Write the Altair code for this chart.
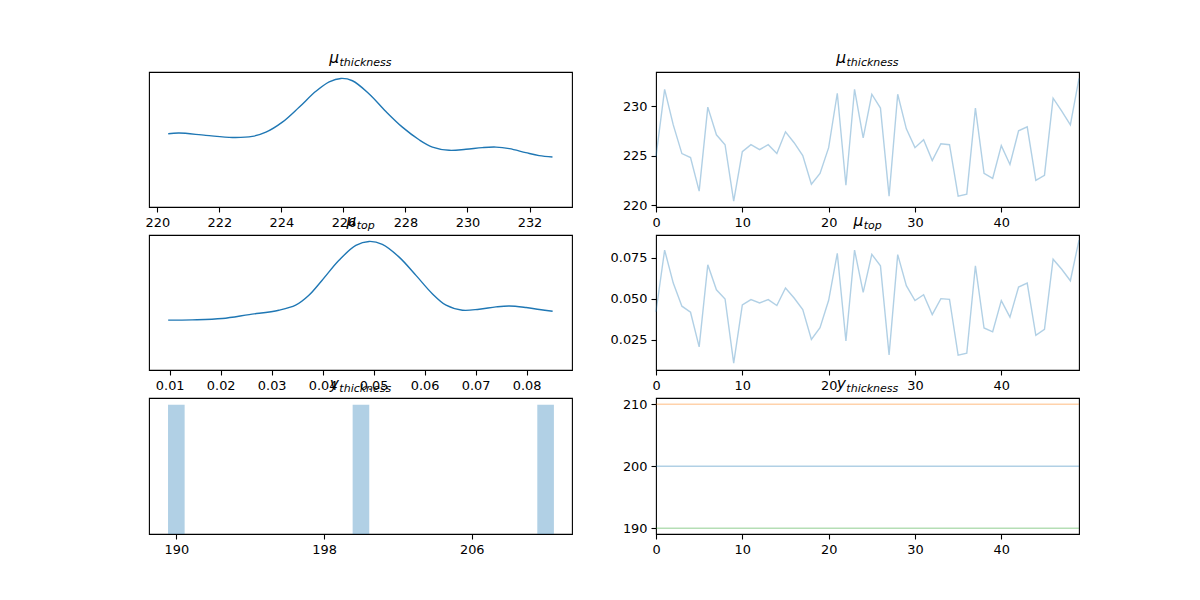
import altair as alt
import pandas as pd

# ---------------- data ----------------
draws = list(range(50))

mu_thickness_trace = [224.9, 231.7, 228.1, 225.2, 224.8, 221.4, 229.9, 227.1, 226.1, 220.4,
                      225.4, 226.1, 225.6, 226.1, 225.2, 227.4, 226.3, 225.0, 222.1, 223.2,
                      225.8, 231.3, 222.0, 231.7, 226.8, 231.2, 229.8, 220.9, 231.2, 227.7,
                      225.8, 226.6, 224.5, 226.2, 226.1, 220.9, 221.1, 229.8, 223.2, 222.7,
                      226.0, 224.1, 227.5, 227.9, 222.5, 223.0, 230.8, 229.5, 228.1, 232.8]

mu_top_trace = [0.0420, 0.0796, 0.0595, 0.0454, 0.0417, 0.0206, 0.0706, 0.0554, 0.0498, 0.0107,
                0.0462, 0.0494, 0.0474, 0.0494, 0.0458, 0.0565, 0.0504, 0.0433, 0.0252, 0.0323,
                0.0490, 0.0776, 0.0242, 0.0796, 0.0538, 0.0770, 0.0700, 0.0157, 0.0768, 0.0579,
                0.0488, 0.0524, 0.0403, 0.0500, 0.0496, 0.0155, 0.0167, 0.0700, 0.0321, 0.0298,
                0.0488, 0.0387, 0.0571, 0.0595, 0.0276, 0.0313, 0.0740, 0.0679, 0.0609, 0.0857]

kde_thick_x = [220.35, 220.70, 221.56, 222.42, 223.06, 223.50, 224.03, 224.57, 225.11, 225.54,
               225.92, 226.29, 226.83, 227.37, 227.90, 228.44, 228.87, 229.41, 229.95, 230.48,
               230.92, 231.35, 231.88, 232.31, 232.74]
kde_thick_d = [0.570, 0.575, 0.557, 0.541, 0.549, 0.582, 0.660, 0.776, 0.900, 0.974,
               1.000, 0.982, 0.879, 0.742, 0.621, 0.523, 0.466, 0.441, 0.449, 0.462,
               0.466, 0.454, 0.423, 0.400, 0.389]

kde_top_x = [0.0097, 0.0144, 0.0203, 0.0256, 0.0314, 0.0347, 0.0373, 0.0399, 0.0432, 0.0465,
             0.0491, 0.0517, 0.0550, 0.0583, 0.0615, 0.0642, 0.0674, 0.0707, 0.0740, 0.0766,
             0.0799, 0.0825, 0.0851]
kde_top_d = [0.388, 0.390, 0.400, 0.431, 0.465, 0.504, 0.581, 0.698, 0.853, 0.969,
             1.000, 0.977, 0.878, 0.736, 0.594, 0.504, 0.465, 0.473, 0.491, 0.498,
             0.486, 0.471, 0.457]

y_obs = [200, 210, 190]
y_dim = ["0", "1", "2"]
y_colors = ["#1f77b4", "#ff7f0e", "#2ca02c"]
hist_counts = [1, 1, 1]

# ---------------- styling ----------------
W, H = 423, 135
BLUE = "#1f77b4"
FONT = "DejaVu Sans"
LINE_OP = 0.35


def title_layer(main, sub, w_main, w_sub):
    anchor = W / 2 + (w_main - w_sub) / 2
    df = pd.DataFrame({"main": [main], "sub": [sub]})
    m = alt.Chart(df).mark_text(align="right", baseline="alphabetic", font=FONT,
                                fontStyle="italic", fontSize=15.5, color="black").encode(
        x=alt.value(anchor), y=alt.value(-9), text="main:N")
    s = alt.Chart(df).mark_text(align="left", baseline="alphabetic", font=FONT,
                                fontStyle="italic", fontSize=11, color="black").encode(
        x=alt.value(anchor + 0.5), y=alt.value(-6), text="sub:N")
    return m + s


def xaxis(values, fmt=None):
    kw = dict(values=values, labelFlush=False, labelOverlap=False, title=None)
    if fmt:
        kw["format"] = fmt
    return alt.Axis(**kw)


def yaxis(values, fmt=None):
    kw = dict(values=values, labelOverlap=False, title=None)
    if fmt:
        kw["format"] = fmt
    return alt.Axis(**kw)


# ---- row 1 ----
kde1_df = pd.DataFrame({"x": kde_thick_x, "d": kde_thick_d})
kde1 = alt.Chart(kde1_df).mark_line(color=BLUE, strokeWidth=1.4, interpolate="catmull-rom").encode(
    x=alt.X("x:Q", scale=alt.Scale(domain=[219.73, 233.37], nice=False, zero=False),
            axis=xaxis([220, 222, 224, 226, 228, 230, 232])),
    y=alt.Y("d:Q", scale=alt.Scale(domain=[0, 1.05], nice=False), axis=None),
)
p1 = (kde1 + title_layer("μ", "thickness", 9.6, 52.5)).properties(width=W, height=H)

tr1_df = pd.DataFrame({"draw": draws, "v": mu_thickness_trace})
tr1 = alt.Chart(tr1_df).mark_line(color=BLUE, opacity=LINE_OP, strokeWidth=1.4).encode(
    x=alt.X("draw:Q", scale=alt.Scale(domain=[0, 49], nice=False, zero=False),
            axis=xaxis([0, 10, 20, 30, 40])),
    y=alt.Y("v:Q", scale=alt.Scale(domain=[219.8, 233.45], nice=False, zero=False),
            axis=yaxis([220, 225, 230])),
)
p2 = (tr1 + title_layer("μ", "thickness", 9.6, 52.5)).properties(width=W, height=H)

# ---- row 2 ----
kde2_df = pd.DataFrame({"x": kde_top_x, "d": kde_top_d})
kde2 = alt.Chart(kde2_df).mark_line(color=BLUE, strokeWidth=1.4, interpolate="catmull-rom").encode(
    x=alt.X("x:Q", scale=alt.Scale(domain=[0.00594, 0.0889], nice=False, zero=False),
            axis=xaxis([0.01, 0.02, 0.03, 0.04, 0.05, 0.06, 0.07, 0.08], ".2f")),
    y=alt.Y("d:Q", scale=alt.Scale(domain=[0, 1.05], nice=False), axis=None),
)
p3 = (kde2 + title_layer("μ", "top", 9.6, 18)).properties(width=W, height=H)

tr2_df = pd.DataFrame({"draw": draws, "v": mu_top_trace})
tr2 = alt.Chart(tr2_df).mark_line(color=BLUE, opacity=LINE_OP, strokeWidth=1.4).encode(
    x=alt.X("draw:Q", scale=alt.Scale(domain=[0, 49], nice=False, zero=False),
            axis=xaxis([0, 10, 20, 30, 40])),
    y=alt.Y("v:Q", scale=alt.Scale(domain=[0.0065, 0.0888], nice=False, zero=False),
            axis=yaxis([0.025, 0.05, 0.075], ".3f")),
)
p4 = (tr2 + title_layer("μ", "top", 9.6, 18)).properties(width=W, height=H)

# ---- row 3 ----
hist_df = pd.DataFrame({"v": y_obs, "n": hist_counts})
hist = alt.Chart(hist_df).transform_calculate(
    lo="datum.v - 0.45", hi="datum.v + 0.45"
).mark_bar(color=BLUE, opacity=LINE_OP).encode(
    x=alt.X("lo:Q", scale=alt.Scale(domain=[188.52, 211.43], nice=False, zero=False),
            axis=xaxis([190, 198, 206])),
    x2="hi:Q",
    y=alt.Y("n:Q", scale=alt.Scale(domain=[0, 1.052], nice=False), axis=None),
    y2=alt.datum(0),
)
p5 = (hist + title_layer("y", "thickness", 9.2, 52.5)).properties(width=W, height=H + 1)

obs_df = pd.DataFrame({"v": y_obs, "dim": y_dim})
rules = alt.Chart(obs_df).mark_rule(opacity=LINE_OP, strokeWidth=1.4).encode(
    x=alt.datum(0, scale=alt.Scale(domain=[0, 49], nice=False, zero=False),
                axis=xaxis([0, 10, 20, 30, 40])),
    x2=alt.datum(49),
    y=alt.Y("v:Q", scale=alt.Scale(domain=[189.08, 211.0], nice=False, zero=False),
            axis=yaxis([190, 200, 210])),
    color=alt.Color("dim:N", scale=alt.Scale(domain=y_dim, range=y_colors), legend=None),
)
p6 = (rules + title_layer("y", "thickness", 9.2, 52.5)).properties(width=W, height=H + 1)

chart = alt.concat(p1, p2, p3, p4, p5, p6, columns=2,
                   spacing=alt.RowColnumber(row=28, column=84), bounds="flush").properties(
    padding={"left": 144, "top": 50, "right": 0, "bottom": 0},
    background="white",
).configure_view(
    stroke="black", strokeWidth=1.1
).configure_axis(
    domain=False, grid=False, ticks=True, tickColor="black", tickSize=5, tickWidth=1.1,
    labelPadding=4, labelFont=FONT, labelFontSize=12.9, labelColor="black",
)

chart.save("out.html", embed_options={"renderer": "svg", "actions": False})
